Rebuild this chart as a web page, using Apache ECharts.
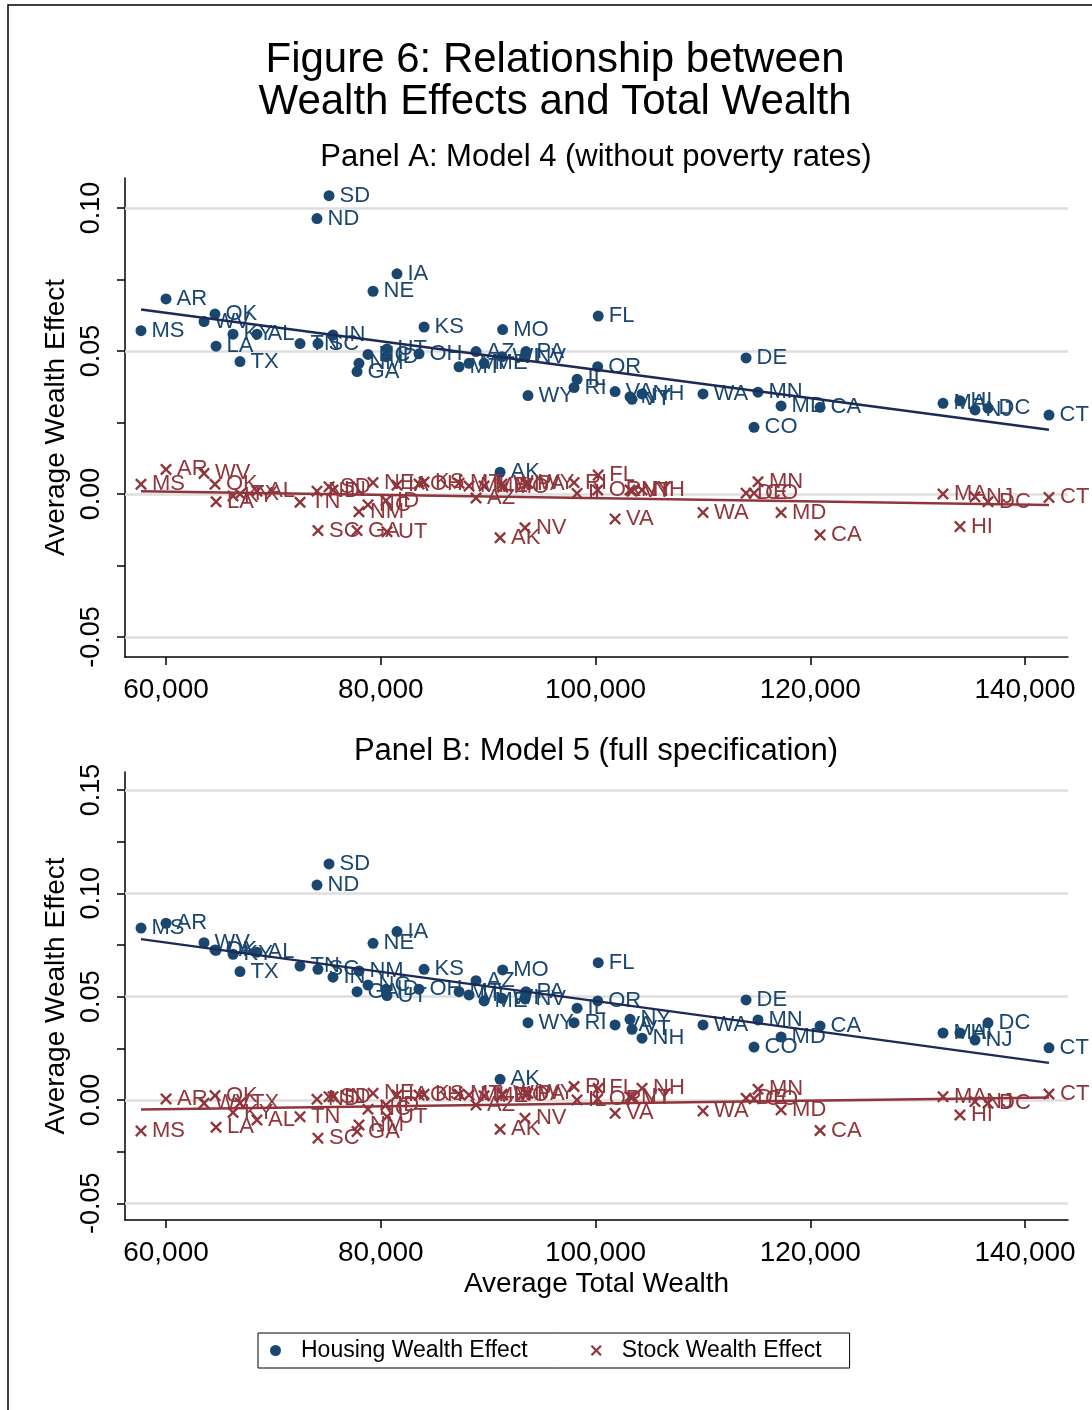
<!DOCTYPE html>
<html>
<head>
<meta charset="utf-8">
<script src="https://cdn.jsdelivr.net/npm/echarts@6/dist/echarts.min.js"></script>
<style>
  html, body { margin: 0; padding: 0; background: #fff; }
  #chart { width: 1092px; height: 1410px; }
</style>
</head>
<body>
<div id="chart"></div>
<script>
// states, sorted by average total wealth
var states = ['MS','AR','WV','OK','LA','KY','TX','AL','TN','ND','SC','SD','IN','GA','NM','NC','NE','ID','UT','IA',
    'OH','KS','MT','MI','AZ','ME','AK','WI','MO','NV','PA','WY','RI','IL','FL','OR','VA','NY','VT','NH',
    'WA','DE','CO','MN','MD','CA','MA','HI','NJ','DC','CT'];
var wealth = [57670, 60000, 63540, 64560, 64660, 66240, 66890, 68470, 72480, 74060, 74150, 75180, 75550, 77790, 77970, 78810, 79280, 80490, 80580, 81510,
    83560, 84030, 87290, 88220, 88870, 89620, 91110, 91290, 91350, 93430, 93520, 93710, 98000, 98280, 100250, 100200, 101820, 103210, 103400, 104330,
    110010, 114020, 114760, 115130, 117280, 120910, 132360, 133940, 135340, 136550, 142230];

// Panel A: Model 4
var housingA = [0.0571, 0.0682, 0.0603, 0.0629, 0.0517, 0.0559, 0.0463, 0.0559, 0.0526, 0.0963, 0.0526, 0.1043, 0.0556, 0.0428, 0.0457, 0.0488, 0.0709, 0.0480, 0.0507, 0.0770,
    0.0490, 0.0584, 0.0445, 0.0457, 0.0498, 0.0457, 0.0076, 0.0480, 0.0575, 0.0480, 0.0498, 0.0344, 0.0372, 0.0401, 0.0622, 0.0445, 0.0358, 0.0340, 0.0331, 0.0350,
    0.0350, 0.0476, 0.0233, 0.0356, 0.0308, 0.0303, 0.0317, 0.0326, 0.0294, 0.0300, 0.0276];
var stockA = [0.0034, 0.0086, 0.0072, 0.0034, -0.0027, -0.0007, 0.0000, 0.0010, -0.0029, 0.0010, -0.0128, 0.0025, 0.0014, -0.0128, -0.0062, -0.0038, 0.0040, -0.0023, -0.0132, 0.0031,
    0.0035, 0.0042, 0.0038, 0.0028, -0.0014, 0.0028, -0.0153, 0.0035, 0.0024, -0.0118, 0.0035, 0.0038, 0.0040, 0.0002, 0.0066, 0.0014, -0.0087, 0.0014, 0.0010, 0.0014,
    -0.0065, 0.0003, 0.0003, 0.0043, -0.0065, -0.0143, 0.0000, -0.0114, -0.0010, -0.0027, -0.0012];

// Panel B: Model 5
var housingB = [0.0832, 0.0855, 0.0761, 0.0726, 0.0724, 0.0705, 0.0621, 0.0715, 0.0648, 0.1040, 0.0632, 0.1142, 0.0594, 0.0524, 0.0624, 0.0556, 0.0758, 0.0536, 0.0505, 0.0815,
    0.0536, 0.0632, 0.0524, 0.0508, 0.0577, 0.0479, 0.0100, 0.0492, 0.0629, 0.0489, 0.0524, 0.0374, 0.0374, 0.0444, 0.0664, 0.0479, 0.0363, 0.0390, 0.0342, 0.0299,
    0.0363, 0.0484, 0.0256, 0.0387, 0.0305, 0.0358, 0.0324, 0.0324, 0.0290, 0.0373, 0.0252];
var stockB = [-0.0150, 0.0005, -0.0016, 0.0021, -0.0132, -0.0061, -0.0015, -0.0097, -0.0081, 0.0003, -0.0185, 0.0016, 0.0016, -0.0153, -0.0121, -0.0045, 0.0032, -0.0024, -0.0081, 0.0024,
    0.0024, 0.0028, 0.0028, 0.0024, -0.0024, 0.0020, -0.0142, 0.0028, 0.0024, -0.0089, 0.0030, 0.0032, 0.0065, 0.0000, 0.0056, 0.0004, -0.0065, 0.0016, 0.0010, 0.0056,
    -0.0053, 0.0008, 0.0006, 0.0052, -0.0048, -0.0148, 0.0016, -0.0073, -0.0008, -0.0016, 0.0029];

var xTicks = [60000, 80000, 100000, 120000, 140000];
var yTicksA = [-0.05, 0, 0.05, 0.10];
var yTicksB = [-0.05, 0, 0.05, 0.10, 0.15];
var yMinorA = [-0.05, -0.025, 0, 0.025, 0.05, 0.075, 0.10];
var yMinorB = [-0.05, -0.025, 0, 0.025, 0.05, 0.075, 0.10, 0.125, 0.15];

var navy = '#1a476f', maroon = '#90353b', fitNavy = '#1c2a56', grey = '#dedede';
var font = 'Liberation Sans, Arial, sans-serif';
var xMark = 'path://M0,1.4L1.4,0L5,3.6L8.6,0L10,1.4L6.4,5L10,8.6L8.6,10L5,6.4L1.4,10L0,8.6L3.6,5Z';

function pts(ys) {
    return states.map(function (s, i) { return [wealth[i], ys[i], s]; });
}
// OLS fit line over the range of the data
function fitLine(ys) {
    var n = wealth.length, mx = 0, my = 0, sxy = 0, sxx = 0;
    for (var i = 0; i < n; i++) { mx += wealth[i] / n; my += ys[i] / n; }
    for (var j = 0; j < n; j++) {
        sxy += (wealth[j] - mx) * (ys[j] - my);
        sxx += (wealth[j] - mx) * (wealth[j] - mx);
    }
    var b = sxy / sxx, a = my - b * mx;
    var lo = Math.min.apply(null, wealth), hi = Math.max.apply(null, wealth);
    return [[lo, a + b * lo], [hi, a + b * hi]];
}

function scatter(name, ys, idx, color, symbol, size) {
    return {
        name: name, type: 'scatter', xAxisIndex: idx, yAxisIndex: idx, z: 2,
        symbol: symbol, symbolSize: size, symbolKeepAspect: true,
        itemStyle: { color: color, opacity: 1 },
        label: {
            show: true, position: 'right', distance: 5,
            formatter: function (p) { return p.value[2]; },
            color: color, fontSize: 22, fontFamily: font
        },
        emphasis: { disabled: true },
        data: pts(ys)
    };
}
function fit(name, ys, idx, color, grid) {
    var s = {
        name: name, type: 'line', xAxisIndex: idx, yAxisIndex: idx, z: 3,
        symbol: 'none', silent: true,
        lineStyle: { color: color, width: 2.5 },
        data: fitLine(ys)
    };
    if (grid) {
        s.markLine = {
            silent: true, z: 1, symbol: ['none', 'none'], label: { show: false },
            lineStyle: { color: grey, width: 2.5, type: 'solid' },
            data: grid.map(function (v) { return { yAxis: v }; })
        };
    }
    return s;
}

function xAxis(idx, name) {
    return {
        type: 'value', gridIndex: idx, min: 56180, max: 144000,
        name: name || '', nameLocation: 'middle', nameGap: 50,
        nameTextStyle: { fontSize: 28, color: '#000', fontFamily: font },
        axisLine: { onZero: false, lineStyle: { color: '#000', width: 1.5 } },
        axisTick: { customValues: xTicks, length: 8, lineStyle: { color: '#000', width: 1.5 } },
        axisLabel: {
            customValues: xTicks, fontSize: 28, color: '#000', fontFamily: font, margin: 19,
            formatter: function (v) { return v.toLocaleString('en-US'); }
        },
        splitLine: { show: false }
    };
}
function yAxis(idx, min, max, labels, ticks) {
    return {
        type: 'value', gridIndex: idx, min: min, max: max,
        name: 'Average Wealth Effect', nameLocation: 'middle', nameGap: 51,
        nameTextStyle: { fontSize: 28, color: '#000', fontFamily: font },
        axisLine: { show: true, onZero: false, lineStyle: { color: '#000', width: 1.5 } },
        axisTick: { show: true, customValues: ticks, length: 8, lineStyle: { color: '#000', width: 1.5 } },
        axisLabel: {
            customValues: labels, rotate: 90, fontSize: 27, color: '#000', fontFamily: font, margin: 20,
            formatter: function (v) { return v.toFixed(2); }
        },
        splitLine: { show: false }
    };
}

var myChart = echarts.init(document.getElementById('chart'), null, { renderer: 'canvas' });
var option = {
    animation: false,
    backgroundColor: '#fff',
    title: [
        { text: 'Figure 6: Relationship between\nWealth Effects and Total Wealth', left: 550, top: 34,
          textAlign: 'center', textVerticalAlign: 'top',
          textStyle: { fontSize: 42, lineHeight: 42, fontWeight: 'normal', color: '#000', fontFamily: font } },
        { text: 'Panel A: Model 4 (without poverty rates)', left: 591, top: 137,
          textAlign: 'center', textVerticalAlign: 'top',
          textStyle: { fontSize: 31, fontWeight: 'normal', color: '#000', fontFamily: font } },
        { text: 'Panel B: Model 5 (full specification)', left: 591, top: 731,
          textAlign: 'center', textVerticalAlign: 'top',
          textStyle: { fontSize: 31, fontWeight: 'normal', color: '#000', fontFamily: font } }
    ],
    graphic: [{
        type: 'rect', silent: true, z: -1,
        shape: { x: 8, y: 5, width: 1300, height: 1600 },
        style: { fill: 'none', stroke: '#000', lineWidth: 1.5 }
    }],
    legend: {
        left: 258, top: 1333, orient: 'horizontal',
        itemWidth: 41, itemHeight: 11, itemGap: 63,
        padding: [6, 28, 6, 12],
        borderColor: '#000', borderWidth: 1,
        selectedMode: false,
        textStyle: { fontSize: 23, color: '#000', fontFamily: font },
        data: [
            { name: 'Housing Wealth Effect', icon: 'circle' },
            { name: 'Stock Wealth Effect', icon: xMark }
        ]
    },
    grid: [
        { left: 125, top: 178, width: 943, height: 479 },
        { left: 125, top: 772, width: 943, height: 448 }
    ],
    xAxis: [xAxis(0), xAxis(1, 'Average Total Wealth')],
    yAxis: [yAxis(0, -0.057, 0.1105, yTicksA, yMinorA), yAxis(1, -0.0581, 0.1587, yTicksB, yMinorB)],
    series: [
        scatter('Housing Wealth Effect', housingA, 0, navy, 'circle', 11),
        scatter('Stock Wealth Effect', stockA, 0, maroon, xMark, 12),
        fit('fitHA', housingA, 0, fitNavy, yTicksA),
        fit('fitSA', stockA, 0, maroon),
        scatter('Housing Wealth Effect', housingB, 1, navy, 'circle', 11),
        scatter('Stock Wealth Effect', stockB, 1, maroon, xMark, 12),
        fit('fitHB', housingB, 1, fitNavy, yTicksB),
        fit('fitSB', stockB, 1, maroon)
    ]
};
myChart.setOption(option, true);
</script>
</body>
</html>
